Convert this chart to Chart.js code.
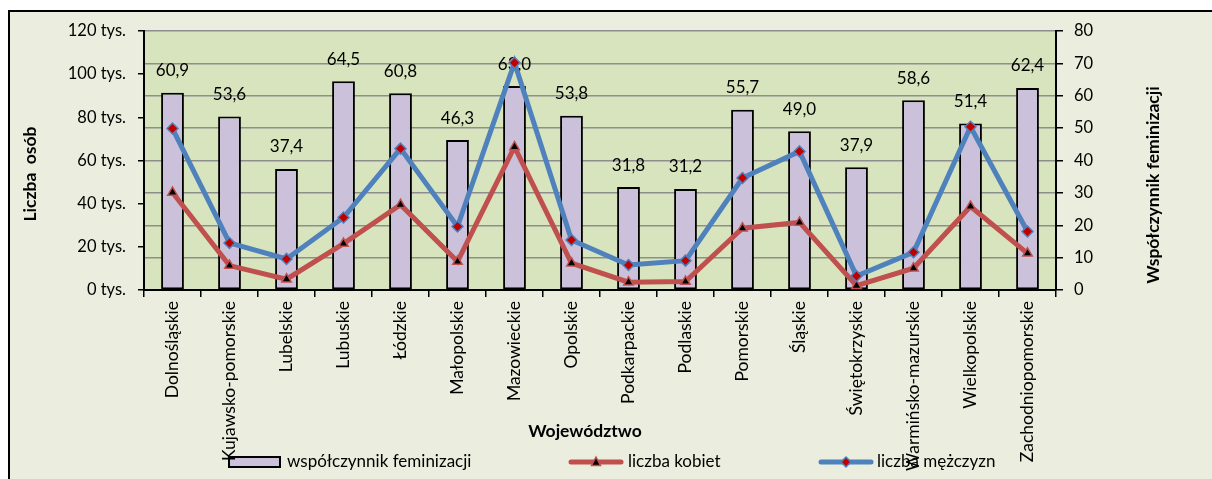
<!DOCTYPE html>
<html>
<head>
<meta charset="utf-8">
<script src="https://cdn.jsdelivr.net/npm/chart.js@4"></script>
<style>
    html, body { margin: 0; padding: 0; background: #fff; }
    #wrap { width: 1212px; height: 479px; }
</style>
</head>
<body>
<div id="wrap"><canvas id="c" width="1212" height="479"></canvas></div>
<script>
const categories = ['Dolnośląskie', 'Kujawsko-pomorskie', 'Lubelskie', 'Lubuskie', 'Łódzkie', 'Małopolskie',
    'Mazowieckie', 'Opolskie', 'Podkarpackie', 'Podlaskie', 'Pomorskie', 'Śląskie', 'Świętokrzyskie',
    'Warmińsko-mazurskie', 'Wielkopolskie', 'Zachodniopomorskie'];
// współczynnik feminizacji (right axis)
const feminization = [60.9, 53.6, 37.4, 64.5, 60.8, 46.3, 63.0, 53.8, 31.8, 31.2, 55.7, 49.0, 37.9, 58.6, 51.4, 62.4];
// liczba kobiet, tys. (left axis)
const women = [45.2, 11.3, 5.0, 21.5, 39.5, 13.2, 66.3, 12.4, 3.6, 3.9, 28.6, 31.3, 2.0, 10.1, 38.7, 17.0];
// liczba mężczyzn, tys. (left axis)
const men = [74.8, 21.8, 14.4, 33.6, 65.5, 29.4, 105.3, 23.2, 11.6, 13.6, 51.9, 64.2, 6.5, 17.5, 75.6, 27.1];

const FONT = 'Lato, "Open Sans", sans-serif';
const BAR_FILL = '#CCC1DA';
const RED = '#C0504D';
const BLUE = '#4F81BD';

const decor = {
    id: 'decor',
    beforeDraw(chart) {
        const ctx = chart.ctx;
        const a = chart.chartArea;
        ctx.save();
        ctx.fillStyle = '#fff';
        ctx.fillRect(0, 0, chart.width, chart.height);
        ctx.fillStyle = '#EBEEDE';
        ctx.fillRect(8, 10, chart.width, chart.height);
        ctx.strokeStyle = '#000';
        ctx.lineWidth = 2;
        ctx.beginPath();
        ctx.moveTo(9, chart.height);
        ctx.lineTo(9, 11);
        ctx.lineTo(chart.width, 11);
        ctx.stroke();
        ctx.fillStyle = '#D7E4BD';
        ctx.fillRect(a.left, a.top, a.right - a.left, a.bottom - a.top);

        // legend (x-axis labels are drawn over it, as in the original)
        const ly = 462;
        ctx.font = '17px ' + FONT;
        ctx.textAlign = 'left';
        ctx.textBaseline = 'middle';
        ctx.fillStyle = BAR_FILL;
        ctx.fillRect(229, 457, 51, 10);
        ctx.strokeStyle = '#000';
        ctx.lineWidth = 2;
        ctx.strokeRect(229, 457, 51, 10);
        ctx.fillStyle = '#000';
        ctx.fillText('współczynnik feminizacji', 287, ly);

        ctx.lineCap = 'round';
        ctx.lineWidth = 5;
        ctx.strokeStyle = RED;
        ctx.beginPath();
        ctx.moveTo(571, ly);
        ctx.lineTo(621, ly);
        ctx.stroke();
        ctx.fillStyle = '#000';
        ctx.lineWidth = 1.5;
        ctx.beginPath();
        ctx.moveTo(596, ly - 5);
        ctx.lineTo(600.5, ly + 3.5);
        ctx.lineTo(591.5, ly + 3.5);
        ctx.closePath();
        ctx.fill();
        ctx.stroke();
        ctx.fillStyle = '#000';
        ctx.fillText('liczba kobiet', 628, ly);

        ctx.lineWidth = 5;
        ctx.strokeStyle = BLUE;
        ctx.beginPath();
        ctx.moveTo(821, ly);
        ctx.lineTo(871, ly);
        ctx.stroke();
        ctx.fillStyle = '#C00000';
        ctx.lineWidth = 1.5;
        ctx.beginPath();
        ctx.moveTo(846, ly - 5);
        ctx.lineTo(851, ly);
        ctx.lineTo(846, ly + 5);
        ctx.lineTo(841, ly);
        ctx.closePath();
        ctx.fill();
        ctx.stroke();
        ctx.fillStyle = '#000';
        ctx.fillText('liczba mężczyzn', 877, ly);
        ctx.restore();
    },
    afterDatasetDraw(chart, args) {
        if (args.index !== 0) return;
        const ctx = chart.ctx;
        ctx.save();
        ctx.font = '17px ' + FONT;
        ctx.fillStyle = '#000';
        ctx.textAlign = 'center';
        ctx.textBaseline = 'middle';
        args.meta.data.forEach((bar, i) => {
            ctx.fillText(feminization[i].toFixed(1).replace('.', ','), bar.x, bar.y - 22);
        });
        ctx.restore();
    },
    afterDraw(chart) {
        const ctx = chart.ctx;
        ctx.save();
        ctx.fillStyle = '#000';
        ctx.font = 'bold 17.5px ' + FONT;
        ctx.textAlign = 'center';
        ctx.textBaseline = 'middle';
        ctx.fillText('Województwo', 585, 431);

        ctx.save();
        ctx.translate(30, 174);
        ctx.rotate(-Math.PI / 2);
        ctx.fillText('Liczba  osób', 0, 0);
        ctx.restore();

        ctx.save();
        ctx.translate(1153, 185);
        ctx.rotate(-Math.PI / 2);
        ctx.fillText('Współczynnik feminizacji', 0, 0);
        ctx.restore();
        ctx.restore();
    }
};

new Chart(document.getElementById('c').getContext('2d'), {
    data: {
        labels: categories,
        datasets: [{
            type: 'bar',
            label: 'współczynnik feminizacji',
            data: feminization,
            yAxisID: 'y2',
            backgroundColor: BAR_FILL,
            borderColor: '#000',
            borderWidth: 2,
            borderSkipped: false,
            barPercentage: 0.4,
            categoryPercentage: 1,
            order: 3
        }, {
            type: 'line',
            label: 'liczba kobiet',
            data: women,
            yAxisID: 'y',
            borderColor: RED,
            borderWidth: 5,
            tension: 0,
            pointStyle: 'triangle',
            pointRadius: 5.5,
            pointBackgroundColor: '#000',
            pointBorderColor: RED,
            pointBorderWidth: 1.5,
            order: 2
        }, {
            type: 'line',
            label: 'liczba mężczyzn',
            data: men,
            yAxisID: 'y',
            borderColor: BLUE,
            borderWidth: 5,
            tension: 0,
            pointStyle: 'rectRot',
            pointRadius: 5.5,
            pointBackgroundColor: '#C00000',
            pointBorderColor: BLUE,
            pointBorderWidth: 1.5,
            order: 1
        }]
    },
    options: {
        responsive: false,
        animation: false,
        layout: { padding: { top: 31, left: 0, right: 0, bottom: 0 } },
        plugins: { legend: { display: false }, tooltip: { enabled: false } },
        scales: {
            x: {
                offset: true,
                grid: { offset: true, drawOnChartArea: false, color: '#000', tickLength: 7, lineWidth: 1.5 },
                border: { color: '#000', width: 2 },
                ticks: {
                    maxRotation: 90, minRotation: 90, autoSkip: false, padding: 4,
                    color: '#000', font: { family: FONT, size: 17.5 }
                },
                afterFit(s) { s.height = 479 - 290; }
            },
            y: {
                position: 'left',
                min: 0, max: 120,
                grid: { drawOnChartArea: false, color: '#000', tickLength: 6, lineWidth: 1.5 },
                border: { color: '#000', width: 2 },
                ticks: {
                    stepSize: 20, padding: 12, color: '#000',
                    font: { family: FONT, size: 16.5 },
                    callback: v => v + ' tys.'
                },
                afterFit(s) { s.width = 144; }
            },
            y2: {
                position: 'right',
                min: 0, max: 80,
                grid: { drawOnChartArea: true, color: '#8E8E8E', tickColor: '#000', tickLength: 7, lineWidth: 1.5 },
                border: { color: '#000', width: 2 },
                ticks: {
                    stepSize: 10, padding: 11, color: '#000',
                    font: { family: FONT, size: 16.5 }
                },
                afterFit(s) { s.width = 1212 - 1056; }
            }
        }
    },
    plugins: [decor]
});
</script>
</body>
</html>
